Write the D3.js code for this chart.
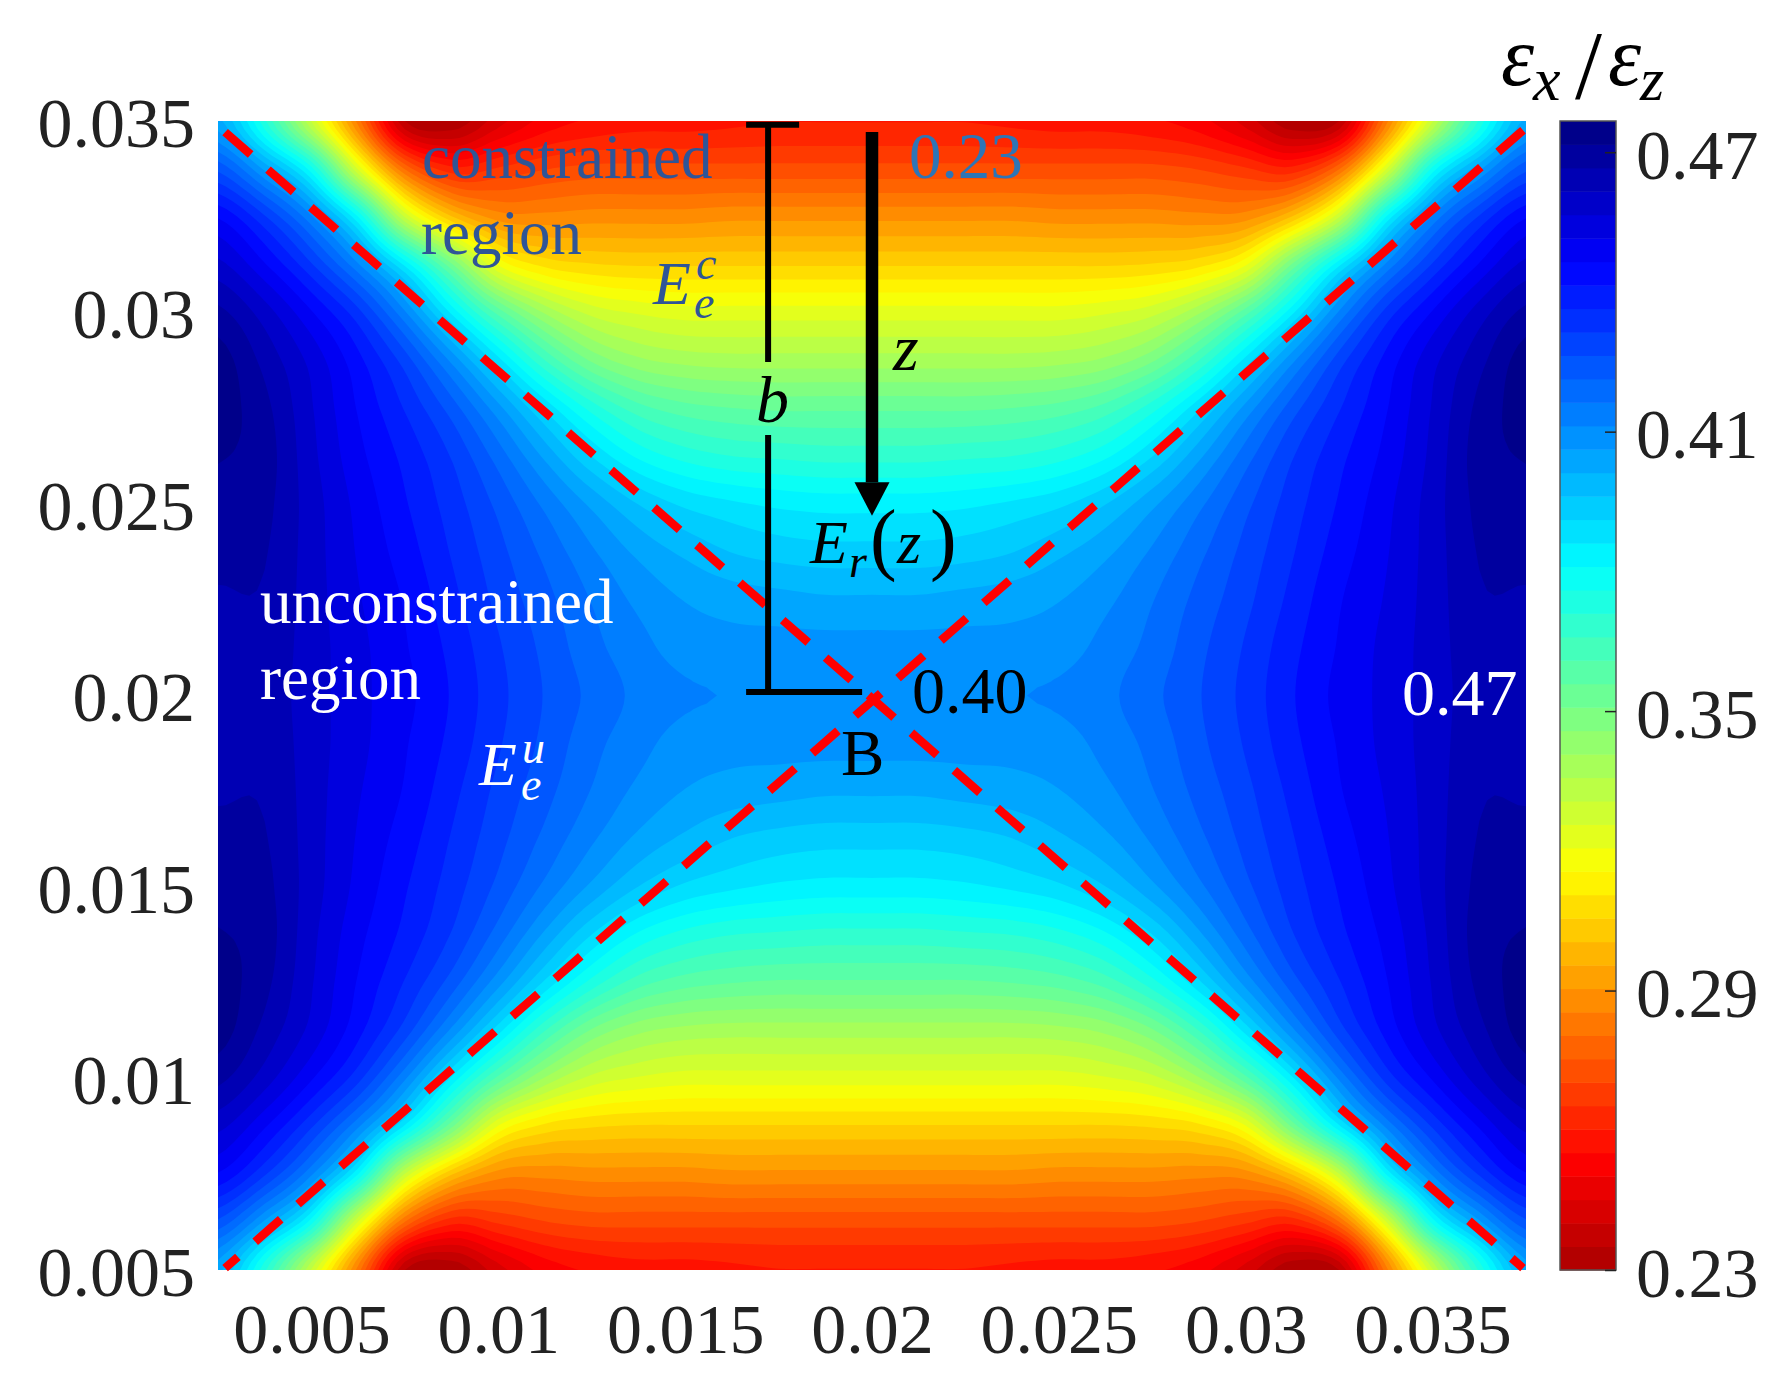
<!DOCTYPE html>
<html><head><meta charset="utf-8">
<script src="https://cdn.jsdelivr.net/npm/d3@7"></script>
<style>
html,body{margin:0;padding:0;background:#fff}
svg{display:block}
text{font-family:"Liberation Serif",serif}
</style></head><body>
<svg id="c" width="1790" height="1397"></svg>
<script>
// ---- data ----
const xTicks=[0.005,0.01,0.015,0.02,0.025,0.03,0.035];
const yTicks=[0.005,0.01,0.015,0.02,0.025,0.03,0.035];
const barTicks=[0.23,0.29,0.35,0.41,0.47];
const xDomain=[0.0025,0.0375];
const yDomain=[0.005,0.035];
const barDomain=[0.23,0.4767];
const bandCount=49;
const colorStops=[0.2295,0.2534,0.285,0.316,0.348,0.381,0.446,0.4767];
const colorNames=["#a80000","#ff0000","#ff8000","#ffff00","#80ff80","#00ffff","#0000ff","#000080"];
// upper-left quadrant of the ratio field; the field is mirrored about x=0.02 and y=0.02
const r00=[.403,.372,.330,.283,.235,.231,.243,.252,.256,.258,.258,.259,.260,.260,.260];
const r01=[.425,.405,.378,.325,.280,.262,.266,.270,.272,.272,.272,.272,.272,.272,.272];
const r02=[.446,.432,.412,.381,.330,.301,.288,.287,.288,.288,.288,.289,.289,.289,.289];
const r03=[.458,.447,.432,.412,.385,.352,.320,.309,.306,.305,.305,.305,.305,.305,.305];
const r04=[.468,.459,.447,.433,.412,.385,.359,.340,.329,.325,.323,.323,.323,.323,.323];
const r05=[.474,.465,.455,.443,.429,.410,.388,.366,.350,.342,.339,.338,.338,.338,.338];
const r06=[.474,.468,.457,.446,.436,.424,.408,.390,.374,.363,.358,.356,.355,.355,.355];
const r07=[.472,.469,.458,.448,.440,.431,.419,.405,.391,.380,.374,.371,.370,.369,.369];
const r08=[.470,.468,.459,.450,.442,.434,.425,.415,.405,.396,.390,.387,.385,.384,.384];
const r09=[.468,.467,.459,.451,.444,.436,.428,.420,.412,.405,.400,.396,.394,.393,.393];
const r10=[.466,.466,.459,.452,.446,.438,.430,.423,.416,.410,.406,.404,.403,.402,.402];
const r11=[.464,.465,.459,.453,.447,.440,.432,.425,.418,.413,.409,.408,.408,.408,.408];
const r12=[.462,.464,.459,.453,.448,.441,.433,.426,.420,.415,.412,.411,.410,.410,.410];
const quadrantRows=[r00,r01,r02,r03,r04,r05,r06,r07,r08,r09,r10,r11,r12];
const bracketX=0.01722, bracketTop=0.0349, bracketBottom=0.02009;
const arrowX=0.0200, arrowTop=0.03471, arrowTip=0.02469, arrowBase=0.02557;
const boundaryA=[[0.00269,0.03471],[0.03742,0.00505]];
const boundaryB=[[0.00269,0.00505],[0.03742,0.03476]];

// ---- layout ----
const P={l:218,r:1526,t:121,b:1270};
const B={l:1560,r:1616};
const x=d3.scaleLinear(xDomain,[P.l,P.r]);
const y=d3.scaleLinear(yDomain,[P.b,P.t]);
const yBar=d3.scaleLinear(barDomain,[P.b,P.t]);
const color=d3.scaleLinear(colorStops,colorNames).interpolate(d3.interpolateRgb).clamp(true);
const svg=d3.select("#c");

// full grid from the quadrant
const halfRows=quadrantRows.map(r=>r.concat(r.slice(0,-1).reverse()));
const grid=halfRows.concat(halfRows.slice(0,-1).reverse());
const nr=grid.length,nc=grid[0].length;

// smooth rendering of the grid (the same job contourf does between nodes)
const up=6;
function cr(a,b,c,d,t){return 0.5*((2*b)+(-a+c)*t+(2*a-5*b+4*c-d)*t*t+(-a+3*b-3*c+d)*t*t*t);}
const at=(j,i)=>grid[Math.max(0,Math.min(nr-1,j))][Math.max(0,Math.min(nc-1,i))];
const W=(nc-1)*up+1,H=(nr-1)*up+1,fine=new Float64Array(W*H);
for(let q=0;q<H;q++){const j=Math.min(nr-2,Math.floor(q/up)),tj=q/up-j;
  for(let p=0;p<W;p++){const i=Math.min(nc-2,Math.floor(p/up)),ti=p/up-i;
    const col=[-1,0,1,2].map(k=>cr(at(j+k,i-1),at(j+k,i),at(j+k,i+1),at(j+k,i+2),ti));
    fine[q*W+p]=cr(col[0],col[1],col[2],col[3],tj);}}
const edges=d3.range(bandCount+1).map(d3.scaleLinear([0,bandCount],barDomain));
const bandColor=k=>color((edges[k]+edges[k+1])/2);
const contours=d3.contours().size([W,H]).smooth(true).thresholds(edges.slice(1,-1))(fine);
const toX=d3.scaleLinear([0.5,W-0.5],xDomain),toY=d3.scaleLinear([0.5,H-0.5],[yDomain[1],yDomain[0]]);
const path=d3.geoPath(d3.geoTransform({point(a,b){this.stream.point(x(toX(a)),y(toY(b)));}}));
svg.append("clipPath").attr("id","plot").append("rect").attr("x",P.l).attr("y",P.t).attr("width",P.r-P.l).attr("height",P.b-P.t);
const map=svg.append("g").attr("clip-path","url(#plot)");
map.append("rect").attr("x",P.l).attr("y",P.t).attr("width",P.r-P.l).attr("height",P.b-P.t).attr("fill",bandColor(0));
map.selectAll("path").data(contours).join("path").attr("d",path).attr("fill",(d,k)=>bandColor(k+1));

// boundary lines
const line=d3.line().x(d=>x(d[0])).y(d=>y(d[1]));
[[boundaryA,0],[boundaryB,17]].forEach(([d,off])=>{
  svg.append("path").attr("d",line(d)).attr("fill","none").attr("stroke","#ff0000").attr("stroke-width",8.5)
   .attr("stroke-dasharray","34 23").attr("stroke-dashoffset",off);});

// axes
const fs=70;
const ax=svg.append("g").attr("transform",`translate(0,${P.b})`).call(d3.axisBottom(x).tickValues(xTicks).tickSize(0).tickFormat(String));
ax.select(".domain").remove();
ax.selectAll("text").attr("dy",0).attr("y",83).attr("font-size",fs).attr("fill","#222").style("font-family","Liberation Serif");
const ay=svg.append("g").attr("transform",`translate(${P.l},0)`).call(d3.axisLeft(y).tickValues(yTicks).tickSize(0).tickFormat(String));
ay.select(".domain").remove();
ay.selectAll("text").attr("dy",0).attr("y",25).attr("x",-23).attr("font-size",fs).attr("fill","#222").style("font-family","Liberation Serif");

// colour bar
svg.selectAll("rect.band").data(d3.range(bandCount)).join("rect").attr("class","band")
  .attr("x",B.l).attr("width",B.r-B.l)
  .attr("y",k=>yBar(edges[k+1])).attr("height",k=>yBar(edges[k])-yBar(edges[k+1])+0.5).attr("fill",bandColor);
svg.append("rect").attr("x",B.l).attr("y",P.t).attr("width",B.r-B.l).attr("height",P.b-P.t).attr("fill","none").attr("stroke","#555").attr("stroke-width",1.5);
const ab=svg.append("g").attr("transform",`translate(${B.r},0)`).call(d3.axisRight(yBar).tickValues(barTicks).tickSize(-11).tickPadding(0).tickFormat(d3.format(".2f")));
ab.select(".domain").remove();
ab.selectAll("line").attr("stroke","#222").attr("stroke-width",1.5);
ab.selectAll("text").attr("dy",0).attr("x",20).attr("y",26).attr("font-size",fs).attr("fill","#222").style("font-family","Liberation Serif");

// bracket b and arrow z
const seg=(x1,y1,x2,y2,w)=>svg.append("line").attr("x1",x1).attr("y1",y1).attr("x2",x2).attr("y2",y2).attr("stroke","#000").attr("stroke-width",w);
seg(x(bracketX)-22,y(bracketTop),x(bracketX)+31,y(bracketTop),6);
seg(x(bracketX)-22,y(bracketBottom),x(bracketX)+94,y(bracketBottom),6);
seg(x(bracketX),y(bracketTop),x(bracketX),362,6);
seg(x(bracketX),435,x(bracketX),y(bracketBottom),6);
seg(x(arrowX),y(arrowTop),x(arrowX),y(arrowBase),12.5);
svg.append("path").attr("d",d3.line()([[x(arrowX)-17.5,y(arrowBase)],[x(arrowX)+17.5,y(arrowBase)],[x(arrowX),y(arrowTip)]])+"Z").attr("fill","#000");

// annotations
function label(t,px,py,size,fill,italic){return svg.append("text").attr("x",px).attr("y",py).attr("font-size",size).attr("fill",fill).attr("font-style",italic?"italic":"normal").text(t);}
const navy="#2f5597";
label("constrained",422,178,63,navy);
label("region",421,254,63,navy);
label("0.23",909,178,65,"#2e75b6");
label("unconstrained",260,623,63,"#fff");
label("region",260,699,63,"#fff");
label("0.40",912,713,66,"#000");
label("0.47",1402,715,66,"#fff");
label("B",841,775,65,"#000");
label("E",653,304,62,navy,true); label("c",696,279,46,navy,true); label("e",694,318,46,navy,true);
label("E",479,785,62,"#fff",true); label("u",522,763,46,"#fff",true); label("e",521,800,46,"#fff",true);
label("b",756,422,66,"#000",true);
label("z",893,370,66,"#000",true);
label("E",810,563,62,"#000",true); label("r",849,577,46,"#000",true);
label("(",870,565,80,"#000"); label("z",897,563,62,"#000",true); label(")",930,565,80,"#000");
label("ε",1501,85,84,"#000",true); label("x",1533,100,62,"#000",true);
label("/",1575,98,97,"#000");
label("ε",1608,85,84,"#000",true); label("z",1640,100,62,"#000",true);
</script>
</body></html>
